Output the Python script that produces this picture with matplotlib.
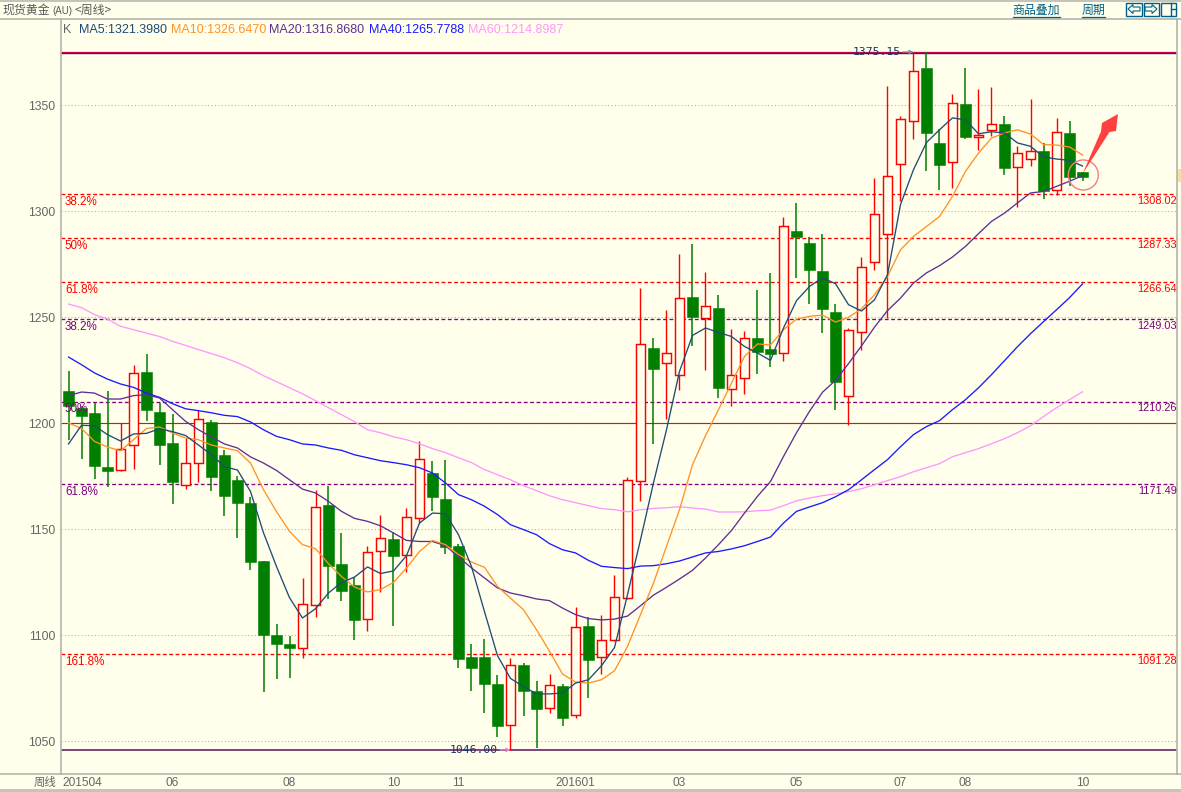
#!/usr/bin/env python3
# -*- coding: utf-8 -*-

import matplotlib
matplotlib.use('Agg')
import matplotlib.pyplot as plt
from matplotlib.patches import Circle, Polygon, Rectangle
import numpy as np

# weekly candles, 2015-04 to 2016-10
open_vals = [1215.4, 1207.3, 1205.0, 1179.6, 1177.8, 1189.6, 1224.4, 1205.5, 1190.9, 1170.8,
             1181.1, 1200.8, 1185.2, 1173.4, 1162.6, 1135.2, 1100.3, 1096.1, 1093.9, 1114.2,
             1161.7, 1133.8, 1123.9, 1107.6, 1139.8, 1145.6, 1137.7, 1155.2, 1176.7, 1164.5,
             1142.3, 1090.0, 1090.0, 1077.2, 1057.5, 1086.2, 1073.9, 1065.6, 1076.3, 1062.3,
             1104.6, 1089.6, 1097.6, 1117.5, 1172.6, 1235.7, 1228.3, 1222.6, 1259.8, 1249.5,
             1254.6, 1216.0, 1221.2, 1240.4, 1235.2, 1233.0, 1290.9, 1285.2, 1272.0, 1252.7,
             1212.7, 1242.9, 1276.0, 1289.3, 1322.2, 1342.5, 1367.8, 1332.4, 1323.1, 1350.8,
             1335.2, 1338.2, 1341.4, 1320.8, 1324.5, 1328.6, 1309.9, 1337.1, 1318.7]
high_vals = [1224.9, 1208.4, 1209.6, 1215.4, 1200.2, 1227.7, 1232.9, 1209.6, 1204.6, 1192.9,
             1206.5, 1201.7, 1187.6, 1175.3, 1165.4, 1135.2, 1105.5, 1099.9, 1127.2, 1168.7,
             1170.6, 1148.4, 1127.7, 1142.3, 1156.9, 1148.9, 1160.2, 1191.8, 1182.4, 1182.9,
             1143.3, 1096.1, 1098.4, 1081.5, 1089.5, 1087.1, 1078.6, 1081.9, 1077.2, 1113.5,
             1108.8, 1109.8, 1128.6, 1174.9, 1264.0, 1240.4, 1253.6, 1280.0, 1284.8, 1271.6,
             1260.7, 1244.7, 1243.7, 1263.1, 1271.1, 1297.5, 1304.1, 1288.1, 1289.5, 1256.5,
             1245.1, 1278.6, 1315.9, 1359.3, 1345.2, 1375.15, 1375.15, 1339.0, 1355.5, 1367.8,
             1357.9, 1358.8, 1345.2, 1331.0, 1353.2, 1332.4, 1344.2, 1342.8, 1318.7]
low_vals = [1192.3, 1183.3, 1173.9, 1169.8, 1177.4, 1178.6, 1201.3, 1180.5, 1162.1, 1168.9,
            1172.2, 1168.3, 1156.5, 1146.1, 1131.0, 1073.1, 1079.6, 1080.0, 1089.5, 1108.9,
            1117.3, 1116.4, 1098.0, 1102.2, 1120.6, 1104.6, 1130.0, 1153.2, 1158.9, 1138.5,
            1084.8, 1073.9, 1063.5, 1052.2, 1046.0, 1062.1, 1047.0, 1063.5, 1057.4, 1061.2,
            1070.6, 1081.9, 1097.5, 1117.3, 1163.5, 1190.4, 1202.2, 1215.9, 1236.7, 1225.3,
            1212.1, 1208.4, 1214.0, 1223.4, 1226.7, 1229.6, 1268.7, 1256.5, 1242.8, 1206.5,
            1199.4, 1234.8, 1272.5, 1249.9, 1305.0, 1334.3, 1319.2, 1310.2, 1311.2, 1334.3,
            1329.1, 1335.7, 1317.3, 1302.2, 1321.6, 1306.0, 1307.9, 1312.1, 1314.5]
close_vals = [1208.4, 1203.6, 1180.0, 1177.7, 1187.9, 1223.8, 1206.1, 1189.9, 1172.2, 1181.3,
              1202.1, 1174.8, 1165.9, 1162.6, 1134.4, 1100.3, 1096.1, 1094.2, 1114.8, 1160.6,
              1132.9, 1121.1, 1107.4, 1139.3, 1145.9, 1137.6, 1155.9, 1183.4, 1165.4, 1141.8,
              1089.0, 1084.8, 1077.2, 1057.4, 1086.0, 1073.9, 1065.4, 1076.6, 1061.2, 1103.9,
              1088.5, 1097.8, 1118.1, 1173.3, 1237.5, 1225.8, 1233.2, 1259.2, 1250.3, 1255.4,
              1216.8, 1222.8, 1240.3, 1233.8, 1232.9, 1293.1, 1288.1, 1272.5, 1254.1, 1219.7,
              1244.0, 1273.8, 1298.8, 1316.7, 1343.6, 1366.2, 1337.1, 1322.0, 1351.1, 1335.2,
              1336.2, 1341.2, 1320.6, 1327.5, 1328.5, 1309.8, 1337.5, 1316.4, 1316.0]

ma5 = [1190.3, 1199.1, 1198.9, 1194.7, 1191.7, 1195.0, 1195.3, 1197.5, 1196.1, 1194.3,
       1189.8, 1185.2, 1179.6, 1178.0, 1167.9, 1148.4, 1132.5, 1117.8, 1108.2, 1112.6,
       1120.0, 1125.0, 1127.5, 1132.3, 1129.2, 1130.4, 1137.6, 1153.0, 1157.7, 1157.4,
       1147.5, 1132.5, 1111.2, 1090.4, 1079.7, 1075.9, 1072.4, 1072.4, 1072.8, 1077.5,
       1079.1, 1085.7, 1094.3, 1119.2, 1145.1, 1172.0, 1197.0, 1224.5, 1241.5, 1245.0,
       1242.9, 1241.0, 1236.3, 1233.2, 1229.7, 1245.0, 1257.9, 1264.6, 1268.7, 1265.9,
       1256.0, 1253.0, 1258.3, 1270.1, 1303.2, 1319.7, 1332.5, 1338.5, 1344.1, 1343.2,
       1336.6, 1337.6, 1337.0, 1332.3, 1330.7, 1325.7, 1324.7, 1324.1, 1321.4]
ma10 = [1200.2, 1197.6, 1191.5, 1188.9, 1187.0, 1192.3, 1197.6, 1198.3, 1195.5, 1193.1,
        1192.3, 1189.8, 1188.4, 1187.1, 1181.3, 1168.7, 1158.4, 1149.1, 1142.8, 1140.9,
        1133.8, 1127.8, 1122.8, 1120.5, 1121.6, 1125.0, 1131.8, 1139.6, 1144.8, 1142.8,
        1138.1, 1134.6, 1132.1, 1123.1, 1117.6, 1112.1, 1102.7, 1092.5, 1081.8, 1078.0,
        1077.5, 1079.1, 1083.3, 1094.8, 1109.8, 1124.7, 1142.0, 1159.3, 1180.5, 1194.2,
        1206.5, 1219.0, 1231.6, 1237.5, 1237.0, 1244.2, 1249.2, 1250.5, 1251.1, 1247.8,
        1250.0, 1254.1, 1260.7, 1269.3, 1281.9, 1288.2, 1292.9, 1297.6, 1307.1, 1318.9,
        1327.5, 1334.6, 1337.0, 1338.5, 1336.5, 1331.5, 1331.3, 1330.4, 1326.6]
ma20 = [1213.1, 1214.8, 1214.3, 1211.5, 1211.5, 1213.1, 1213.5, 1212.0, 1206.5, 1201.0,
        1197.0, 1193.6, 1190.3, 1188.4, 1184.2, 1181.3, 1177.8, 1173.4, 1169.0, 1167.2,
        1163.2, 1158.5, 1155.2, 1153.8, 1151.7, 1148.3, 1144.8, 1144.3, 1144.3, 1142.3,
        1137.0, 1131.8, 1127.1, 1122.4, 1120.0, 1118.7, 1117.2, 1116.4, 1112.9, 1109.8,
        1107.9, 1107.3, 1107.7, 1109.1, 1114.0, 1119.0, 1122.7, 1126.6, 1130.7, 1136.5,
        1142.8, 1149.5, 1157.7, 1165.6, 1172.6, 1184.4, 1195.6, 1205.7, 1214.7, 1220.3,
        1228.2, 1236.6, 1245.4, 1253.2, 1259.1, 1266.2, 1271.0, 1274.4, 1278.5, 1283.5,
        1289.5, 1295.3, 1299.2, 1304.0, 1308.7, 1309.4, 1311.8, 1314.2, 1316.9]
ma40 = [1231.3, 1227.7, 1223.8, 1220.9, 1218.6, 1217.0, 1214.3, 1212.3, 1209.3, 1206.9,
        1206.0, 1205.0, 1203.8, 1203.2, 1200.7, 1197.0, 1193.9, 1192.3, 1190.3, 1189.8,
        1188.4, 1187.3, 1185.2, 1183.8, 1182.4, 1181.5, 1180.5, 1179.1, 1176.6, 1171.9,
        1166.4, 1164.0, 1160.9, 1157.0, 1152.2, 1149.9, 1147.5, 1143.3, 1140.4, 1138.9,
        1135.4, 1132.6, 1132.0, 1131.5, 1132.7, 1132.9, 1133.8, 1135.1, 1137.0, 1138.9,
        1139.6, 1140.8, 1142.3, 1144.3, 1146.4, 1153.0, 1158.5, 1160.6, 1162.6, 1165.4,
        1168.7, 1173.4, 1178.2, 1182.9, 1189.0, 1194.7, 1198.5, 1201.3, 1206.5, 1211.2,
        1216.8, 1223.0, 1229.6, 1236.2, 1242.3, 1248.0, 1253.6, 1259.3, 1265.8]
ma60 = [1256.3, 1254.6, 1251.3, 1249.2, 1245.8, 1244.2, 1242.6, 1241.0, 1238.7, 1236.8,
        1234.8, 1232.9, 1231.0, 1228.6, 1225.8, 1222.5, 1219.7, 1216.8, 1214.0, 1210.7,
        1207.4, 1204.1, 1200.8, 1197.0, 1195.6, 1193.7, 1192.3, 1190.4, 1188.1, 1186.2,
        1183.8, 1181.5, 1178.2, 1175.8, 1173.4, 1170.6, 1168.3, 1165.9, 1164.0, 1162.6,
        1161.2, 1159.8, 1159.3, 1158.3, 1159.3, 1159.9, 1160.2, 1160.7, 1160.1, 1159.6,
        1158.2, 1158.2, 1158.3, 1158.8, 1159.1, 1161.2, 1163.5, 1164.8, 1165.9, 1166.8,
        1167.8, 1169.2, 1171.1, 1173.0, 1174.9, 1177.2, 1179.1, 1181.0, 1184.3, 1186.2,
        1188.1, 1190.4, 1192.8, 1195.6, 1198.9, 1203.2, 1207.4, 1211.2, 1214.9]

# fibonacci levels
fib_red_levels = [1308.02, 1287.33, 1266.64, 1091.28]
fib_red_names = ['38.2%', '50%', '61.8%', '161.8%']
fib_purple_levels = [1249.03, 1210.26, 1171.49]
fib_purple_names = ['38.2%', '50%', '61.8%']
top_price = 1375.15
bottom_price = 1046.00

y_ticks = [1050, 1100, 1150, 1200, 1250, 1300, 1350]
x_tick_pos = [8, 17, 25, 30, 39, 47, 56, 64, 69, 78]
x_tick_labels = ['06', '08', '10', '11', '201601', '03', '05', '07', '08', '10']

legend_names = ['MA5:1321.3980', 'MA10:1326.6470', 'MA20:1316.8680', 'MA40:1265.7788', 'MA60:1214.8987']
legend_x = [79, 171, 269, 369, 468]

BG = '#FFFFEC'
GREY = '#B4B4AC'
TEXT = '#666666'
RED = '#FF0000'
GREEN = '#007F00'
PURPLE = '#800080'
LINK = '#00608A'
MA_COLORS = ['#1F4B76', '#FF9226', '#5E2F94', '#1A1AFF', '#FF96FF']
CJK = ['Noto Sans CJK SC', 'DejaVu Sans']

plt.rcParams['font.family'] = ['Liberation Sans', 'DejaVu Sans']

fig = plt.figure(figsize=(11.81, 7.92), dpi=100, facecolor=BG)
ax = fig.add_axes([61 / 1181, 18 / 792, 1116 / 1181, 755 / 792], facecolor=BG)

idx = np.arange(len(open_vals))
o = np.array(open_vals)
h = np.array(high_vals)
l = np.array(low_vals)
c = np.array(close_vals)
up = c >= o

# 网格线
for tick in y_ticks:
    if tick != 1200:
        ax.axhline(tick, color=GREY, lw=0.8, ls=(0, (1, 2)), zorder=1)
ax.axhline(1200, color=RED, lw=0.8, zorder=1)
ax.axhline(1200, color='#2E6B20', lw=0.8, ls=(0, (1, 1)), zorder=1)

# 黄金分割线
DASH = (0, (2.9, 1.9))
for lev in fib_red_levels:
    ax.axhline(lev, color=RED, lw=0.95, ls=DASH, zorder=1)
for lev in fib_purple_levels:
    ax.axhline(lev, color=PURPLE, lw=0.95, ls=DASH, zorder=1)
ax.axhline(top_price + 0.25, color='#E0004A', lw=0.9, zorder=2)
ax.axhline(top_price - 0.2, color='#5A0F6E', lw=1.0, zorder=2)
ax.axhline(bottom_price, color='#5A0F5A', lw=1.1, zorder=2)

# K线
ax.vlines(idx[up], l[up], h[up], color=RED, lw=1.0, zorder=3)
ax.vlines(idx[~up], l[~up], h[~up], color=GREEN, lw=1.1, zorder=3)
ax.bar(idx[~up], (c - o)[~up], bottom=o[~up], width=0.82, color=GREEN, edgecolor=GREEN, lw=0.4, zorder=4)
ax.bar(idx[up], (c - o)[up], bottom=o[up], width=0.74, color=BG, edgecolor=RED, lw=1.05, zorder=4)

# 均线
for vals, col in zip([ma60, ma40, ma20, ma10, ma5], MA_COLORS[::-1]):
    ax.plot(idx, vals, color=col, lw=0.95, zorder=5)

ax.set_xlim((61 - 68.5) / 13, (1177 - 68.5) / 13)
ax.set_ylim(1350 - (774 - 105.4) / 2.12, 1350 + (105.4 - 19) / 2.12)

ax.set_yticks(y_ticks)
ax.set_yticklabels([str(t) for t in y_ticks], fontsize=8.8, color=TEXT)
ax.set_xticks(x_tick_pos)
ax.set_xticklabels(x_tick_labels, fontsize=8.6, color=TEXT)
ax.tick_params(axis='both', length=0)
ax.tick_params(axis='y', pad=4)
ax.tick_params(axis='x', pad=2.5)
for s in ax.spines.values():
    s.set_color(GREY)
    s.set_linewidth(1.2)

# 分割线标注
trans = ax.get_yaxis_transform()
for lev, name in zip(fib_red_levels, fib_red_names):
    ax.annotate(name, xy=(0.0035, lev), xycoords=trans, xytext=(0, -1.2), textcoords='offset points',
                va='top', ha='left', fontsize=8.4, color=RED, zorder=6)
    ax.annotate('%.2f' % lev, xy=(1.0, lev), xycoords=trans, xytext=(0, -1.2), textcoords='offset points',
                va='top', ha='right', fontsize=7.9, color=RED, zorder=6)
for lev, name in zip(fib_purple_levels, fib_purple_names):
    ax.annotate(name, xy=(0.0035, lev), xycoords=trans, xytext=(0, -1.2), textcoords='offset points',
                va='top', ha='left', fontsize=8.4, color=PURPLE, zorder=6)
    ax.annotate('%.2f' % lev, xy=(1.0, lev), xycoords=trans, xytext=(0, -1.2), textcoords='offset points',
                va='top', ha='right', fontsize=7.9, color=PURPLE, zorder=6)

# 最高最低价标注
ax.annotate('%.2f' % top_price, xy=(int(np.argmax(h)), top_price), xytext=(-9.5, 0), textcoords='offset points',
            ha='right', va='center', fontsize=8.2, family='DejaVu Sans Mono', color='#17365D', zorder=6,
            arrowprops=dict(arrowstyle='->', color='#8C8098', lw=0.9, shrinkA=0, shrinkB=0, mutation_scale=6))
ax.annotate('%.2f' % bottom_price, xy=(int(np.argmin(l)), bottom_price), xytext=(-9.5, 0), textcoords='offset points',
            ha='right', va='center', fontsize=8.2, family='DejaVu Sans Mono', color='#17365D', zorder=6,
            arrowprops=dict(arrowstyle='->', color='#D890D8', lw=0.9, shrinkA=0, shrinkB=0, mutation_scale=6))

# 窗口边框、标题 (像素坐标)
ov = fig.add_axes([0, 0, 1, 1], facecolor='none', zorder=10)
ov.set_xlim(0, 1181)
ov.set_ylim(792, 0)
ov.set_axis_off()

ov.add_patch(Rectangle((0, 0), 1181, 1.5, color='#C4C4BC', lw=0))
ov.add_patch(Rectangle((0, 788.5), 1181, 3.5, color='#C4C4BC', lw=0))
ov.plot([0, 61], [19, 19], color=GREY, lw=1.2)
ov.plot([1177, 1181], [19, 19], color=GREY, lw=1.2)
ov.plot([0, 61], [774, 774], color=GREY, lw=1.2)
ov.plot([1177, 1181], [774, 774], color=GREY, lw=1.2)
ov.add_patch(Rectangle((1178, 169), 3, 13, color='#F5DFA0', lw=0))

ov.text(2, 10.5, '现货黄金', family=CJK, fontsize=8.6, color='#5A5A5A', va='center', ha='left')
ov.text(52.5, 10.5, '(AU)', fontsize=7, color='#5A5A5A', va='center', ha='left')
ov.text(74.5, 10.5, '<周线>', family=CJK, fontsize=8.6, color='#5A5A5A', va='center', ha='left')
ov.text(45, 782.5, '周线', family=CJK, fontsize=8.2, color=TEXT, va='center', ha='center')
ov.text(62.5, 782.5, '201504', fontsize=8.6, color=TEXT, va='center', ha='left')

ov.text(63, 30, 'K', fontsize=9, color=TEXT, va='center', ha='left')
for name, x0, col in zip(legend_names, legend_x, MA_COLORS):
    ov.text(x0, 30, name, fontsize=9, color=col, va='center', ha='left')

# 右上角按钮
ov.text(1036, 10.5, '商品叠加', family=CJK, fontsize=8.6, color=LINK, va='center', ha='center')
ov.text(1093.5, 10.5, '周期', family=CJK, fontsize=8.6, color=LINK, va='center', ha='center')
ov.plot([1013, 1060], [16.5, 16.5], color=LINK, lw=0.9)
ov.plot([1082, 1105], [16.5, 16.5], color=LINK, lw=0.9)
for bx in [1126, 1143.5, 1160.5]:
    ov.add_patch(Rectangle((bx, 2.5), 15.5, 13, fill=False, edgecolor=LINK, lw=1.0))
ov.add_patch(Polygon([(1128, 9), (1133, 4.5), (1133, 7), (1140, 7), (1140, 11), (1133, 11), (1133, 13.5)],
                     closed=True, fill=False, edgecolor=LINK, lw=0.8))
ov.add_patch(Polygon([(1157, 9), (1152, 4.5), (1152, 7), (1145, 7), (1145, 11), (1152, 11), (1152, 13.5)],
                     closed=True, fill=False, edgecolor=LINK, lw=0.8))
ov.plot([1170.5, 1170.5], [2.5, 15.5], color=LINK, lw=1.0)
ov.plot([1170.5, 1176], [9, 9], color=LINK, lw=1.0)

# 手绘红箭头和圆圈
ov.add_patch(Circle((1083.3, 175), 15, fill=False, edgecolor='#F08080', lw=1.0))
ov.add_patch(Polygon([(1082.5, 174), (1101, 131.5), (1102, 123), (1118, 114), (1116, 131), (1109.5, 132)],
                     closed=True, facecolor='#FF4040', edgecolor='none'))

fig.savefig('out.png', dpi=100, facecolor=BG)
